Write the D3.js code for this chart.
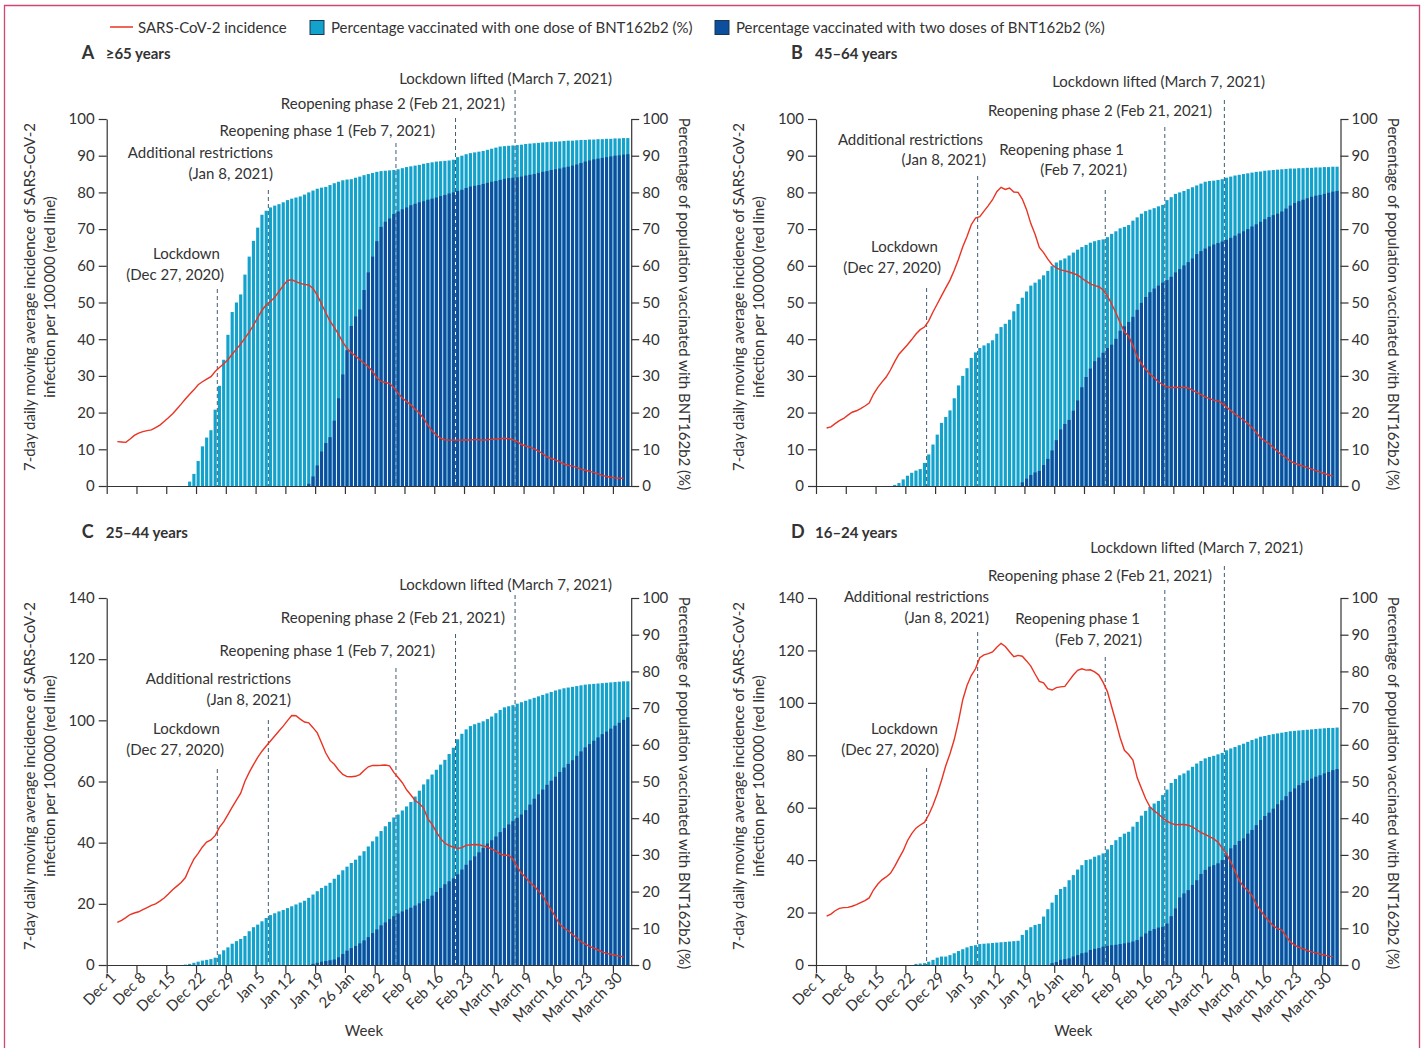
<!DOCTYPE html>
<html>
<head>
<meta charset="utf-8">
<script src="https://d3js.org/d3.v7.min.js"></script>
<style>
  body { margin: 0; background: #fff; }
  svg text { font-family: Lato, "Open Sans", sans-serif; fill: #333; }
</style>
</head>
<body>
<div id="chart"></div>
<script>
// ---- data ----
// day 0 = Dec 1, 2020; one bar per day (Dec 1 .. April 2)
var weekLabels = ["Dec 1", "Dec 8", "Dec 15", "Dec 22", "Dec 29", "Jan 5", "Jan 12", "Jan 19", "26 Jan",
  "Feb 2", "Feb 9", "Feb 16", "Feb 23", "March 2", "March 9", "March 16", "March 23", "March 30"];

var eventDays = [26, 38, 68, 82, 96];
var eventTitles = ["Lockdown", "Additional restrictions", "Reopening phase 1", "Reopening phase 2", "Lockdown lifted"];
var eventDates = ["(Dec 27, 2020)", "(Jan 8, 2021)", "(Feb 7, 2021)", "(Feb 21, 2021)", "(March 7, 2021)"];

var legendLabels = ["SARS-CoV-2 incidence", "Percentage vaccinated with one dose of BNT162b2 (%)",
  "Percentage vaccinated with two doses of BNT162b2 (%)"];

// red line starts on day 2 (Dec 3)
var incidenceStartDay = 2;

// A  >=65 years
var a65OneDose = [0,0,0,0,0,0,0,0,0,0,0,0,0,0,0,0,0,0,0,
  1.2,3.3,6.8,10.8,13.2,15.2,20.8,27.3,34.4,41.2,
  47.4,50.0,52.2,57.6,62.5,66.8,70.4,73.9,75.0,75.9,
  76.4,76.8,77.3,77.9,78.3,78.6,78.9,79.4,80.0,80.5,
  81.0,81.3,81.5,82.0,82.5,82.9,83.3,83.5,83.6,84.0,
  84.3,84.7,85.0,85.3,85.6,85.8,85.9,86.0,86.1,86.3,
  86.6,86.9,87.1,87.3,87.5,87.8,88.0,88.2,88.4,88.5,
  88.6,88.7,88.9,89.6,90.0,90.4,90.7,90.9,91.1,91.3,
  91.6,91.9,92.2,92.5,92.6,92.7,92.8,92.9,93.0,93.2,
  93.3,93.4,93.5,93.6,93.7,93.8,93.8,93.9,94.0,94.1,
  94.1,94.2,94.3,94.3,94.4,94.4,94.5,94.5,94.6,94.6,
  94.7,94.7,94.8,94.8];
var a65TwoDose = [0,0,0,0,0,0,0,0,0,0,0,0,0,0,0,0,0,0,0,0,0,0,0,0,
  0,0,0,0,0,0,0,0,0,0,0,0,0,0,0,0,0,0,0,0,0,0,0,
  0.6,2.6,5.6,9.4,11.7,13.3,17.8,23.9,30.4,37.0,
  43.6,46.2,48.1,53.4,58.2,62.5,66.7,70.6,72.0,72.9,
  74.1,74.8,75.4,75.9,76.5,76.9,77.3,77.6,78.0,78.3,
  78.6,79.0,79.3,79.7,80.0,80.4,80.7,81.2,81.6,81.8,
  82.0,82.3,82.6,82.9,83.1,83.4,83.7,83.9,84.0,84.1,
  84.3,84.6,84.8,85.0,85.3,85.6,85.8,86.1,86.3,86.5,
  86.8,87.0,87.3,87.6,88.0,88.4,88.7,89.0,89.2,89.4,
  89.6,89.8,90.0,90.1,90.3,90.4];
var a65Incidence = [12.1,12.0,11.9,12.8,13.8,14.4,14.8,15.1,15.3,15.9,
  16.6,17.6,18.6,19.7,21.0,22.3,23.7,25.0,26.2,27.6,
  28.4,29.1,29.8,31.2,32.3,33.3,34.4,35.9,37.3,38.7,
  40.3,41.9,43.8,45.9,47.9,49.3,50.3,51.4,53.0,54.6,
  56.0,56.2,55.7,55.2,54.9,54.8,53.8,52.0,49.6,47.2,
  44.9,43.2,41.3,39.2,37.5,36.3,35.4,34.4,33.5,32.5,
  31.2,29.5,28.5,28.2,27.9,26.8,25.3,24.0,23.0,22.1,
  20.9,19.9,18.4,16.6,15.0,13.9,13.0,12.6,12.5,12.5,
  12.5,12.5,12.6,12.5,12.7,12.6,12.5,12.6,12.7,12.8,
  12.9,13.0,12.9,12.6,12.1,11.3,10.9,10.6,10.1,9.5,
  8.8,7.9,7.5,7.1,6.6,6.0,5.6,5.4,5.0,4.6,
  4.3,4.0,3.7,3.3,2.9,2.6,2.4,2.2,2.1,2.1];

// B  45-64 years
var b4564OneDose = [0,0,0,0,0,0,0,0,0,0,0,0,0,0,0,0,0,0,
  0.3,0.8,1.8,2.8,3.6,4.2,4.6,6.3,8.6,11.3,
  14.0,17.2,18.8,20.6,23.9,27.4,30.0,32.1,34.9,36.4,
  37.6,38.3,38.9,39.7,41.5,43.3,44.2,45.3,47.6,49.6,
  51.3,53.0,54.6,55.4,56.3,57.4,58.6,59.9,60.9,61.5,
  62.0,62.8,63.6,64.4,65.1,65.7,66.3,66.7,67.0,67.2,
  67.8,68.7,69.4,70.2,70.6,71.1,72.3,73.2,74.2,74.9,
  75.3,75.7,76.2,76.6,77.9,78.7,79.6,80.0,80.4,80.9,
  81.4,81.9,82.4,82.9,83.1,83.2,83.4,83.6,84.0,84.3,
  84.6,84.8,85.0,85.2,85.4,85.6,85.7,85.9,86.0,86.1,
  86.2,86.3,86.4,86.5,86.5,86.6,86.6,86.7,86.7,86.8,
  86.8,86.9,86.9,87.0,87.0];
var b4564TwoDose = [0,0,0,0,0,0,0,0,0,0,0,0,0,0,0,0,0,0,0,0,0,0,0,0,
  0,0,0,0,0,0,0,0,0,0,0,0,0,0,0,0,0,0,0,0,0,0,0,0,
  1.0,2.0,3.0,3.7,4.1,5.7,7.4,9.7,12.5,15.4,
  16.9,18.0,20.5,23.3,26.9,29.7,32.0,34.0,35.0,36.3,
  37.6,38.5,40.1,42.3,43.5,44.7,46.1,48.0,49.9,51.5,
  52.8,53.8,54.6,55.4,56.1,57.0,58.2,59.1,60.1,61.0,
  62.0,63.2,64.0,64.7,65.3,65.8,66.2,66.6,67.1,67.6,
  68.2,68.8,69.4,70.0,70.7,71.3,72.0,72.7,73.3,73.8,
  74.2,74.8,75.6,76.4,77.1,77.6,78.0,78.4,78.8,79.1,
  79.3,79.6,79.9,80.2,80.4];
var b4564Incidence = [15.8,16.1,17.0,17.8,18.4,19.3,20.1,20.5,21.1,21.8,
  22.6,25.0,26.8,28.3,29.7,31.6,33.9,35.9,37.2,38.5,
  39.9,41.4,42.6,43.3,45.0,47.4,49.6,51.8,54.0,56.1,
  58.8,61.8,65.2,68.0,71.2,73.0,73.4,74.9,76.4,78.0,
  80.2,81.4,80.8,81.2,80.1,80.0,78.2,75.3,71.5,68.6,
  65.0,63.6,61.8,60.3,59.4,58.9,58.6,58.3,57.9,57.5,
  56.6,55.8,55.1,54.6,54.3,53.4,51.8,49.6,47.2,44.5,
  42.0,40.8,38.2,35.3,33.3,31.8,30.5,29.5,28.4,27.6,
  27.0,26.8,26.9,26.8,26.9,26.7,26.1,25.5,24.9,24.3,
  23.8,23.4,23.2,22.5,21.5,20.6,19.6,18.8,18.0,17.0,
  15.9,14.6,13.1,12.3,11.5,10.5,9.4,8.5,7.7,6.8,
  6.2,5.8,5.4,5.0,4.6,4.2,3.8,3.4,3.0,2.7];

// C  25-44 years (left axis is printed 0, 20, 40, 60, 100, 120, 140)
var c2544LeftTicks = [0, 20, 40, 60, 100, 120, 140];
var c2544OneDose = [0,0,0,0,0,0,0,0,0,0,0,0,0,0,0,0,0,0,
  0.1,0.3,0.6,0.9,1.2,1.4,1.6,2.0,2.9,4.0,
  4.8,5.8,6.5,7.1,7.9,9.2,10.3,11.0,11.9,12.8,
  13.6,14.1,14.6,15.0,15.5,16.0,16.5,17.0,17.5,18.3,
  19.2,20.1,21.0,21.6,22.4,23.5,24.6,25.8,26.8,27.8,
  28.7,29.8,31.0,32.3,33.7,35.0,36.5,37.8,39.0,40.2,
  41.0,42.1,43.2,44.4,45.9,47.5,49.2,50.6,51.9,53.2,
  54.6,55.9,57.5,59.2,61.5,63.0,64.2,65.1,65.6,66.0,
  66.4,67.0,67.7,68.6,69.5,70.2,70.5,70.8,71.2,71.6,
  72.0,72.4,72.8,73.2,73.6,74.0,74.4,74.8,75.1,75.4,
  75.6,75.8,76.0,76.2,76.4,76.5,76.6,76.7,76.8,76.9,
  77.0,77.1,77.2,77.3,77.3];
var c2544TwoDose = [0,0,0,0,0,0,0,0,0,0,0,0,0,0,0,0,0,0,0,0,0,0,0,0,
  0,0,0,0,0,0,0,0,0,0,0,0,0,0,0,0,0,0,0,0,0,0,0,0,
  0.3,0.6,0.9,1.1,1.3,1.5,2.1,3.0,3.9,4.6,
  5.2,5.9,6.7,7.6,8.7,9.7,10.8,11.6,12.5,13.3,
  14.0,14.6,15.1,15.6,16.2,16.8,17.4,18.0,18.9,19.9,
  21.0,22.0,22.8,23.6,24.7,26.0,27.3,28.5,29.6,30.7,
  31.9,33.1,34.0,35.0,36.2,37.3,38.3,39.2,40.1,41.0,
  42.2,43.7,45.3,46.5,47.8,49.1,50.2,51.3,52.6,53.8,
  54.8,55.8,57.0,58.2,59.3,60.2,61.1,62.0,62.9,63.6,
  64.4,65.2,66.0,66.8,67.5];
var c2544Incidence = [13.9,14.6,15.5,16.5,17.0,17.4,18.1,18.8,19.5,20.0,
  20.9,21.9,23.2,24.6,25.8,27.0,28.6,31.8,34.6,36.5,
  38.6,40.2,40.9,42.3,45.0,46.8,49.2,51.6,53.9,56.2,
  60.2,66.0,71.0,75.8,79.8,83.2,86.5,89.7,93.0,96.2,
  99.8,101.6,101.5,100.4,98.9,98.4,95.2,91.8,85.3,78.6,
  73.8,71.3,67.5,64.6,63.2,63.1,63.4,64.5,67.2,69.6,
  70.5,70.5,70.6,70.8,70.2,66.0,62.6,59.6,57.3,55.6,
  53.8,52.8,51.3,47.8,46.0,43.5,41.3,39.8,39.0,38.5,
  38.1,38.4,39.1,39.3,39.4,39.3,38.9,38.6,37.9,37.2,
  36.3,35.9,35.9,34.6,32.2,30.0,28.6,27.0,25.8,24.2,
  22.6,20.3,18.1,15.7,13.3,12.1,11.2,10.0,8.8,7.6,
  6.8,6.1,5.5,4.9,4.3,3.8,3.5,3.2,2.9,2.7];

// D  16-24 years
var d1624OneDose = [0,0,0,0,0,0,0,0,0,0,0,0,0,0,0,0,0,0,0,0,0,0,0,
  0.3,0.4,0.5,0.9,1.4,2.0,2.3,2.3,2.7,3.2,
  3.8,4.3,4.8,5.2,5.4,5.7,5.8,5.9,6.0,6.1,
  6.2,6.3,6.4,6.5,6.6,8.2,9.5,10.3,10.9,11.2,
  13.2,15.2,17.0,19.1,20.7,21.3,23.1,24.5,26.0,27.2,
  28.6,28.8,29.5,29.9,30.4,31.5,32.7,34.0,34.9,35.8,
  36.3,37.7,39.0,40.7,42.0,43.1,44.0,44.7,46.3,47.8,
  49.6,50.7,51.7,52.2,53.0,54.0,54.9,55.6,56.3,56.7,
  57.0,57.4,57.8,58.5,59.0,59.4,59.9,60.3,60.8,61.3,
  61.7,62.2,62.4,62.7,62.9,63.1,63.3,63.5,63.7,63.8,
  63.9,64.0,64.1,64.2,64.3,64.4,64.5,64.6,64.6,64.7];
var d1624TwoDose = [0,0,0,0,0,0,0,0,0,0,0,0,0,0,0,0,0,0,0,0,0,0,0,0,
  0,0,0,0,0,0,0,0,0,0,0,0,0,0,0,0,0,0,0,0,0,0,0,0,0,0,0,0,0,0,0,
  0.5,0.8,1.4,1.6,1.8,2.3,2.7,3.2,3.4,4.1,
  4.4,4.6,5.0,5.2,5.4,5.5,5.7,5.9,6.1,6.4,
  6.8,7.7,8.6,9.3,9.8,10.2,10.4,11.3,13.3,15.4,
  18.4,19.5,20.4,21.8,23.1,24.8,25.9,26.8,27.2,27.7,
  28.6,29.9,31.8,32.7,33.8,34.5,35.8,36.8,38.1,39.5,
  40.6,41.5,42.6,43.8,44.9,46.0,47.2,48.1,49.0,49.6,
  50.2,50.8,51.3,51.7,52.2,52.6,53.1,53.4];
var d1624Incidence = [18.6,19.4,20.7,21.6,21.9,22.0,22.4,23.0,23.8,24.6,
  25.6,28.6,30.8,32.5,33.6,35.0,37.6,40.7,43.6,47.4,
  50.1,52.2,53.4,54.4,57.3,60.9,65.3,70.4,76.0,80.6,
  86.0,93.0,101.2,106.6,110.4,113.0,117.2,118.3,118.8,119.4,
  121.2,122.7,121.5,119.5,117.6,118.1,117.8,116.0,114.0,111.0,
  108.2,107.6,105.4,104.9,105.8,106.1,106.3,108.5,110.6,112.4,
  113.0,112.5,112.6,111.8,110.6,107.8,104.3,98.5,92.8,86.7,
  81.9,80.3,78.2,71.5,67.4,63.4,60.3,58.8,57.6,56.1,
  54.9,54.0,53.5,53.6,53.6,53.3,52.7,51.6,50.5,49.8,
  49.0,48.1,46.8,44.6,42.4,39.3,35.8,32.3,29.8,28.4,
  26.5,23.2,20.8,18.6,16.7,14.9,13.9,13.3,11.0,8.8,
  7.6,6.7,6.2,5.5,5.0,4.6,4.2,3.8,3.4,3.2];

var tenTicks = [0, 10, 20, 30, 40, 50, 60, 70, 80, 90, 100];
var twentyTicks = [0, 20, 40, 60, 80, 100, 120, 140];

// ---- layout ----
var svgWidth = 1424, svgHeight = 1048;
var plotWidth = 524.5, plotHeight = 367;
var dayMax = 123.3;

var colOne = "#12a2cb", colTwo = "#0c4f9f", colRed = "#ea3323", colDash = "#3f5d73";

var svg = d3.select("#chart").append("svg")
  .attr("width", svgWidth).attr("height", svgHeight);

// pink frame
svg.append("path")
  .attr("d", "M4.5,1060 V5.5 H1419.5 V1060")
  .attr("fill", "none").attr("stroke", "#d2466f").attr("stroke-width", 1.3);

// legend
var legend = svg.append("g");
legend.append("line").attr("x1", 110).attr("x2", 133).attr("y1", 27).attr("y2", 27)
  .attr("stroke", colRed).attr("stroke-width", 1.5);
legend.append("text").attr("x", 138).attr("y", 32.5).style("font-size", "15px").text(legendLabels[0]);
legend.append("rect").attr("x", 310).attr("y", 20.5).attr("width", 14).attr("height", 14)
  .attr("fill", colOne).attr("stroke", "#1d3650").attr("stroke-width", 1);
legend.append("text").attr("x", 331).attr("y", 32.5).style("font-size", "15px").text(legendLabels[1]);
legend.append("rect").attr("x", 715).attr("y", 20.5).attr("width", 14).attr("height", 14)
  .attr("fill", colTwo).attr("stroke", "#1d3650").attr("stroke-width", 1);
legend.append("text").attr("x", 736).attr("y", 32.5).style("font-size", "15px").text(legendLabels[2]);

// annotation placement per panel: x = right end of each text line, y = baseline, top = start of dashed line
var notesA = [
  {x: [113.3, 117.3], y: [140, 161], top: 170},
  {x: [166.3, 166.3], y: [39, 60], top: 71},
  {x: [328.3], y: [17], top: 24},
  {x: [398.3], y: [-10], top: -1},
  {x: [505.3], y: [-35], top: -29}];
var notesB = [
  {x: [122, 125], y: [133, 154], top: 169},
  {x: [167, 170], y: [26, 46], top: 57},
  {x: [308, 311], y: [36, 56], top: 71},
  {x: [396], y: [-3], top: 8},
  {x: [449], y: [-32], top: -19}];
var notesC = [
  {x: [113.3, 117.3], y: [136, 157], top: 171},
  {x: [184.3, 184.3], y: [86, 107], top: 122},
  {x: [328.3], y: [58], top: 70},
  {x: [398.3], y: [25], top: 36},
  {x: [505.3], y: [-8], top: -3}];
var notesD = [
  {x: [122, 123], y: [136, 157], top: 170},
  {x: [173, 173], y: [4, 25], top: 34},
  {x: [324, 326], y: [26, 47], top: 59},
  {x: [396], y: [-17], top: -8},
  {x: [487], y: [-45], top: -32}];

var panels = [
  {letter: "A", title: "\u226565 years", left: 106.7, top: 119, one: a65OneDose, two: a65TwoDose,
    red: a65Incidence, leftTicks: tenTicks, notes: notesA, labels: false},
  {letter: "B", title: "45\u201364 years", left: 816, top: 119, one: b4564OneDose, two: b4564TwoDose,
    red: b4564Incidence, leftTicks: tenTicks, notes: notesB, labels: false},
  {letter: "C", title: "25\u201344 years", left: 106.7, top: 598, one: c2544OneDose, two: c2544TwoDose,
    red: c2544Incidence, leftTicks: c2544LeftTicks, notes: notesC, labels: true},
  {letter: "D", title: "16\u201324 years", left: 816, top: 598, one: d1624OneDose, two: d1624TwoDose,
    red: d1624Incidence, leftTicks: twentyTicks, notes: notesD, labels: true}
];

panels.forEach(function(p) {
  var g = svg.append("g").attr("transform", "translate(" + p.left + "," + p.top + ")");

  var x = d3.scaleLinear().domain([0, dayMax]).range([0, plotWidth]);
  // left axis: evenly spaced printed ticks
  var n = p.leftTicks.length;
  var yLeft = d3.scaleLinear().domain(p.leftTicks)
    .range(p.leftTicks.map(function(d, i) { return plotHeight - i * plotHeight / (n - 1); }));
  var yRight = d3.scaleLinear().domain([0, 100]).range([plotHeight, 0]);

  var bw = x(1) - x(0);

  // bars: one dose behind, two doses in front
  g.append("g").selectAll("rect").data(p.one).enter().append("rect")
    .attr("x", function(d, i) { return x(i) + 0.55; })
    .attr("width", bw - 1.1)
    .attr("y", function(d) { return yRight(d); })
    .attr("height", function(d) { return plotHeight - yRight(d); })
    .attr("fill", colOne);
  g.append("g").selectAll("rect").data(p.two).enter().append("rect")
    .attr("x", function(d, i) { return x(i) + 0.55; })
    .attr("width", bw - 1.1)
    .attr("y", function(d) { return yRight(d); })
    .attr("height", function(d) { return plotHeight - yRight(d); })
    .attr("fill", colTwo);

  // event lines and notes
  p.notes.forEach(function(nt, k) {
    var lx = x(eventDays[k]);
    g.append("line").attr("x1", lx).attr("x2", lx).attr("y1", nt.top).attr("y2", plotHeight)
      .attr("stroke", colDash).attr("stroke-width", 1).attr("stroke-dasharray", "4,3");
    var lines = nt.x.length === 2 ? [eventTitles[k], eventDates[k]] : [eventTitles[k] + " " + eventDates[k]];
    lines.forEach(function(t, j) {
      g.append("text").attr("x", nt.x[j]).attr("y", nt.y[j]).attr("text-anchor", "end")
        .style("font-size", "15px").text(t);
    });
  });

  // incidence line
  var line = d3.line()
    .x(function(d, k) { return x(incidenceStartDay + k + 0.5); })
    .y(function(d) { return yLeft(d); });
  g.append("path").datum(p.red).attr("d", line)
    .attr("fill", "none").attr("stroke", colRed).attr("stroke-width", 1.4);

  // axes
  var leftAxis = d3.axisLeft(yLeft).tickValues(p.leftTicks).tickSize(8).tickSizeOuter(0).tickPadding(4);
  var rightAxis = d3.axisRight(yRight).tickValues(tenTicks).tickSize(8).tickSizeOuter(0).tickPadding(3);
  var bottomAxis = d3.axisBottom(x).tickValues(weekLabels.map(function(d, i) { return i * 7; }))
    .tickSize(8).tickSizeOuter(0)
    .tickFormat(function(d, i) { return p.labels ? weekLabels[i] : ""; });

  var ax = [
    g.append("g").call(leftAxis),
    g.append("g").attr("transform", "translate(" + plotWidth + ",0)").call(rightAxis)
  ];
  var bx = g.append("g").attr("transform", "translate(0," + plotHeight + ")").call(bottomAxis);
  ax.push(bx);
  ax.forEach(function(a) {
    a.selectAll("path, line").attr("stroke", "#333").attr("stroke-width", 1.2);
    a.selectAll("text").style("font-size", "15px").attr("fill", "#333")
      .style("font-family", "Lato, sans-serif");
  });
  bx.selectAll("text")
    .attr("text-anchor", "end")
    .attr("dy", "0.35em")
    .attr("transform", "translate(6,10) rotate(-45)")
    .attr("y", 0).attr("x", 0);

  // axis titles
  var midY = 178;
  g.append("text").attr("transform", "translate(-77," + midY + ") rotate(-90)")
    .attr("text-anchor", "middle").attr("dy", "0.35em").style("font-size", "15px")
    .text("7-day daily moving average incidence of SARS-CoV-2");
  g.append("text").attr("transform", "translate(-57," + midY + ") rotate(-90)")
    .attr("text-anchor", "middle").attr("dy", "0.35em").style("font-size", "15px")
    .text("infection per 100\u2009000 (red line)");
  g.append("text").attr("transform", "translate(" + (plotWidth + 53) + ",185) rotate(90)")
    .attr("text-anchor", "middle").attr("dy", "0.35em").style("font-size", "15px")
    .text("Percentage of population vaccinated with BNT162b2 (%)");

  if (p.labels) {
    g.append("text").attr("x", plotWidth / 2 - 5).attr("y", plotHeight + 71)
      .attr("text-anchor", "middle").style("font-size", "15px").text("Week");
  }

  // panel heading
  g.append("text").attr("x", -25).attr("y", -60).style("font-size", "18px")
    .style("font-weight", "bold").text(p.letter);
  g.append("text").attr("x", -1).attr("y", -60).style("font-size", "15px")
    .style("font-weight", "bold").text(p.title);
});
</script>
</body>
</html>
